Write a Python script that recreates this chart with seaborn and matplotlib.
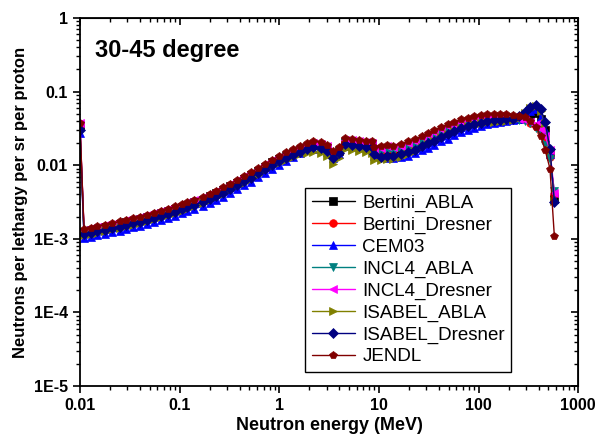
import numpy as np
import pandas as pd
import matplotlib
matplotlib.use('Agg')
import matplotlib.pyplot as plt
import seaborn as sns
from matplotlib.ticker import FixedLocator, FixedFormatter, LogLocator, NullFormatter

# neutron energy grid (MeV)
energy = [0.01, 0.011, 0.013, 0.015, 0.018, 0.021, 0.025, 0.029, 0.034, 0.04,
          0.047, 0.055, 0.065, 0.076, 0.09, 0.105, 0.12, 0.14, 0.17, 0.2,
          0.23, 0.27, 0.32, 0.38, 0.44, 0.52, 0.61, 0.72, 0.85, 1.0,
          1.17, 1.37, 1.6, 1.9, 2.2, 2.6, 3.0, 3.5, 4.0, 4.6,
          5.4, 6.3, 7.4, 8.5, 9.0, 10.5, 12, 14, 16.5, 19.5,
          23, 27, 31, 36, 42, 49, 57, 67, 78, 90,
          105, 122, 142, 165, 190, 220, 255, 290, 330, 375,
          420, 465, 520, 575]

bertini_abla = [0.035, 0.00124, 0.00131, 0.00136, 0.00143, 0.0015, 0.00158, 0.00167, 0.00175, 0.00184,
                0.00195, 0.00207, 0.00221, 0.00236, 0.00253, 0.00271, 0.0029, 0.00313, 0.0034, 0.00377,
                0.00414, 0.0046, 0.00515, 0.0058, 0.00653, 0.00736, 0.00837, 0.00957, 0.0109, 0.0122,
                0.0132, 0.0148, 0.0163, 0.0178, 0.0187, 0.018, 0.0167, 0.0136, 0.0154, 0.0207,
                0.0201, 0.0195, 0.0189, 0.0187, 0.0154, 0.0144, 0.0152, 0.0148, 0.0156, 0.0168,
                0.018, 0.02, 0.022, 0.0245, 0.0274, 0.0302, 0.0331, 0.0357, 0.0374, 0.0391,
                0.0408, 0.0417, 0.0417, 0.042, 0.042, 0.042, 0.043, 0.046, 0.05, 0.051,
                0.043, 0.03, 0.015, 0.0035]

bertini_dresner = [0.036, 0.00128, 0.00135, 0.00141, 0.00147, 0.00155, 0.00163, 0.00172, 0.00181, 0.0019,
                   0.00201, 0.00214, 0.00228, 0.00243, 0.00261, 0.0028, 0.00299, 0.00323, 0.00352, 0.0039,
                   0.00428, 0.00475, 0.00532, 0.00599, 0.00675, 0.0076, 0.00865, 0.00988, 0.0112, 0.0126,
                   0.0135, 0.0151, 0.0167, 0.0182, 0.0191, 0.0185, 0.0171, 0.014, 0.0158, 0.0212,
                   0.0205, 0.02, 0.0194, 0.0191, 0.0158, 0.0158, 0.0167, 0.0163, 0.0172, 0.0185,
                   0.0198, 0.022, 0.0242, 0.0265, 0.0294, 0.0322, 0.0351, 0.0378, 0.0396, 0.0414,
                   0.0432, 0.0441, 0.0441, 0.0446, 0.0441, 0.0436, 0.0432, 0.042, 0.038, 0.034,
                   0.028, 0.021, 0.013, 0.004]

cem03 = [0.027, 0.00101, 0.00106, 0.00111, 0.00116, 0.00122, 0.00129, 0.00136, 0.00143, 0.0015,
         0.00159, 0.00169, 0.0018, 0.00192, 0.00206, 0.00221, 0.00236, 0.00255, 0.00278, 0.00308,
         0.00338, 0.00375, 0.0042, 0.00473, 0.00533, 0.006, 0.00683, 0.0078, 0.00885, 0.01,
         0.0115, 0.013, 0.0145, 0.016, 0.0168, 0.0165, 0.0152, 0.0125, 0.014, 0.0185,
         0.018, 0.0176, 0.017, 0.0168, 0.0135, 0.0128, 0.0125, 0.0125, 0.0128, 0.0135,
         0.0145, 0.016, 0.0172, 0.019, 0.021, 0.023, 0.0255, 0.028, 0.03, 0.032,
         0.034, 0.036, 0.0375, 0.039, 0.04, 0.041, 0.043, 0.048, 0.055, 0.058,
         0.045, 0.03, 0.014, 0.0035]

incl4_abla = [0.034, 0.00122, 0.00128, 0.00133, 0.0014, 0.00147, 0.00155, 0.00163, 0.00171, 0.0018,
              0.00191, 0.00203, 0.00216, 0.0023, 0.00248, 0.00266, 0.00284, 0.00306, 0.00333, 0.00369,
              0.00405, 0.0045, 0.00504, 0.00567, 0.00639, 0.0072, 0.00819, 0.00936, 0.0106, 0.012,
              0.0129, 0.0144, 0.0159, 0.0174, 0.0182, 0.0176, 0.0163, 0.0133, 0.015, 0.0202,
              0.0196, 0.0191, 0.0185, 0.0182, 0.015, 0.0149, 0.0156, 0.0152, 0.016, 0.0172,
              0.0185, 0.0205, 0.0226, 0.0248, 0.0274, 0.0302, 0.0331, 0.0357, 0.0374, 0.0391,
              0.0408, 0.0417, 0.042, 0.0425, 0.0425, 0.042, 0.041, 0.04, 0.037, 0.032,
              0.026, 0.019, 0.012, 0.0045]

incl4_dresner = [0.037, 0.00133, 0.0014, 0.00146, 0.00153, 0.00161, 0.0017, 0.00179, 0.00188, 0.00198,
                 0.0021, 0.00223, 0.00238, 0.00254, 0.00272, 0.00292, 0.00312, 0.00337, 0.00367, 0.00406,
                 0.00446, 0.00495, 0.00555, 0.00624, 0.00703, 0.00792, 0.009, 0.0103, 0.0117, 0.0131,
                 0.0143, 0.016, 0.0176, 0.0192, 0.0201, 0.0195, 0.018, 0.0147, 0.0166, 0.0223,
                 0.0217, 0.0211, 0.0204, 0.0201, 0.0166, 0.0171, 0.018, 0.0176, 0.0185, 0.02,
                 0.0214, 0.0238, 0.0261, 0.0285, 0.0314, 0.0338, 0.0366, 0.0391, 0.041, 0.0428,
                 0.0446, 0.0456, 0.0456, 0.046, 0.0456, 0.0446, 0.043, 0.041, 0.039, 0.036,
                 0.031, 0.025, 0.016, 0.0042]

isabel_abla = [0.03, 0.00111, 0.00116, 0.00121, 0.00127, 0.00134, 0.00141, 0.00148, 0.00156, 0.00164,
               0.00174, 0.00185, 0.00197, 0.0021, 0.00226, 0.00242, 0.00258, 0.00279, 0.00303, 0.00336,
               0.00369, 0.0041, 0.00459, 0.00517, 0.00582, 0.00656, 0.00746, 0.00853, 0.00968, 0.0108,
               0.0117, 0.0128, 0.014, 0.0148, 0.0152, 0.0145, 0.0135, 0.0103, 0.0125, 0.0165,
               0.016, 0.0155, 0.015, 0.0148, 0.0118, 0.0118, 0.0122, 0.0122, 0.013, 0.0142,
               0.0155, 0.0175, 0.0195, 0.0215, 0.024, 0.0268, 0.0295, 0.0325, 0.0345, 0.036,
               0.0375, 0.0385, 0.039, 0.0395, 0.04, 0.041, 0.044, 0.051, 0.059, 0.063,
               0.055, 0.037, 0.016, 0.0033]

isabel_dresner = [0.03, 0.00115, 0.0012, 0.00126, 0.00132, 0.00139, 0.00146, 0.00154, 0.00162, 0.0017,
                  0.0018, 0.00191, 0.00204, 0.00218, 0.00234, 0.00251, 0.00268, 0.00289, 0.00315, 0.00349,
                  0.00383, 0.00425, 0.00476, 0.00536, 0.00604, 0.0068, 0.00774, 0.00884, 0.01, 0.0113,
                  0.0125, 0.0139, 0.0153, 0.0167, 0.0175, 0.017, 0.0157, 0.0125, 0.0145, 0.0193,
                  0.0187, 0.0182, 0.0177, 0.0174, 0.0142, 0.013, 0.0135, 0.0133, 0.014, 0.0151,
                  0.0162, 0.018, 0.0198, 0.0216, 0.0238, 0.0265, 0.029, 0.032, 0.0345, 0.0365,
                  0.038, 0.04, 0.0405, 0.041, 0.042, 0.043, 0.046, 0.053, 0.062, 0.066,
                  0.058, 0.039, 0.0167, 0.0032]

jendl = [0.038, 0.00135, 0.00142, 0.00148, 0.00155, 0.00163, 0.00172, 0.00181, 0.0019, 0.002,
         0.00212, 0.00225, 0.0024, 0.00256, 0.00275, 0.00295, 0.00315, 0.0034, 0.0037, 0.0041,
         0.0045, 0.005, 0.0056, 0.0063, 0.0071, 0.008, 0.0091, 0.0104, 0.0118, 0.0133,
         0.015, 0.0168, 0.0185, 0.0202, 0.0212, 0.0205, 0.019, 0.0155, 0.0175, 0.0235,
         0.0228, 0.0222, 0.0215, 0.0212, 0.0175, 0.018, 0.019, 0.0185, 0.0195, 0.021,
         0.0225, 0.025, 0.0275, 0.03, 0.033, 0.036, 0.039, 0.042, 0.044, 0.046,
         0.048, 0.049, 0.049, 0.0495, 0.049, 0.048, 0.047, 0.045, 0.04, 0.033,
         0.025, 0.016, 0.009, 0.0011]

names = ['Bertini_ABLA', 'Bertini_Dresner', 'CEM03', 'INCL4_ABLA', 'INCL4_Dresner',
         'ISABEL_ABLA', 'ISABEL_Dresner', 'JENDL']
series = [bertini_abla, bertini_dresner, cem03, incl4_abla, incl4_dresner,
          isabel_abla, isabel_dresner, jendl]
colors = ['#000000', '#FF0000', '#0000FF', '#008080', '#FF00FF', '#808000', '#000080', '#800000']
markers = ['s', 'o', '^', 'v', '<', '>', 'D', 'p']

sns.set_style('ticks')
plt.rcParams['font.family'] = ['Liberation Sans', 'DejaVu Sans']
plt.rcParams.update({'text.color': 'black', 'axes.labelcolor': 'black',
                     'xtick.color': 'black', 'ytick.color': 'black',
                     'axes.edgecolor': 'black'})

fig = plt.figure(figsize=(6.1, 4.4), dpi=100)
ax = fig.add_axes([0.131, 0.1227, 0.817, 0.8364])

for name, vals, c, m in zip(names, series, colors, markers):
    df = pd.DataFrame({'E': energy, 'y': vals})
    ms = 5 if m == 'D' else 5.5
    sns.lineplot(data=df, x='E', y='y', color=c, marker=m, markersize=ms,
                 mec=c, mew=0.5, lw=1, label=name, sort=False, ax=ax)

ax.set_xscale('log')
ax.set_yscale('log')
ax.set_xlim(0.01, 1000)
ax.set_ylim(1e-5, 1)

xt = [0.01, 0.1, 1, 10, 100, 1000]
yt = [1e-5, 1e-4, 1e-3, 0.01, 0.1, 1]
ax.xaxis.set_major_locator(FixedLocator(xt))
ax.xaxis.set_major_formatter(FixedFormatter(['0.01', '0.1', '1', '10', '100', '1000']))
ax.yaxis.set_major_locator(FixedLocator(yt))
ax.yaxis.set_major_formatter(FixedFormatter(['1E-5', '1E-4', '1E-3', '0.01', '0.1', '1']))
for a in (ax.xaxis, ax.yaxis):
    a.set_minor_locator(LogLocator(base=10, subs=np.arange(2, 10)))
    a.set_minor_formatter(NullFormatter())

ax.tick_params(which='major', direction='out', length=5, width=1.2, labelsize=11.5, colors='black')
ax.tick_params(which='minor', direction='out', length=3, width=1, colors='black')
for lab in ax.get_xticklabels() + ax.get_yticklabels():
    lab.set_fontweight('bold')

# mirrored top/right axes with inward ticks
top = ax.secondary_xaxis('top')
right = ax.secondary_yaxis('right')
for sec, a in ((top, top.xaxis), (right, right.yaxis)):
    a.set_major_locator(FixedLocator(xt if sec is top else yt))
    a.set_minor_locator(LogLocator(base=10, subs=np.arange(2, 10)))
    a.set_major_formatter(NullFormatter())
    a.set_minor_formatter(NullFormatter())
    sec.tick_params(which='major', direction='in', length=5, width=1.2, colors='black')
    sec.tick_params(which='minor', direction='in', length=3, width=1, colors='black')

for sp in ax.spines.values():
    sp.set_visible(True)
    sp.set_linewidth(1.3)
    sp.set_color('black')

ax.set_xlabel('Neutron energy (MeV)', fontsize=13, fontweight='bold', labelpad=3)
ax.set_ylabel('Neutrons per lethargy per sr per proton', fontsize=12, fontweight='bold', labelpad=4)
ax.text(0.03, 0.913, '30-45 degree', transform=ax.transAxes, fontsize=17,
        fontweight='bold', va='center', ha='left')

leg = ax.legend(loc='lower right', bbox_to_anchor=(0.866, 0.038), borderaxespad=0,
                fontsize=13.5, handlelength=2.3, labelspacing=0.25, handletextpad=0.4,
                fancybox=False, framealpha=1, edgecolor='black', borderpad=0.35)
leg.get_frame().set_linewidth(1)

fig.savefig('out.png', dpi=100)
